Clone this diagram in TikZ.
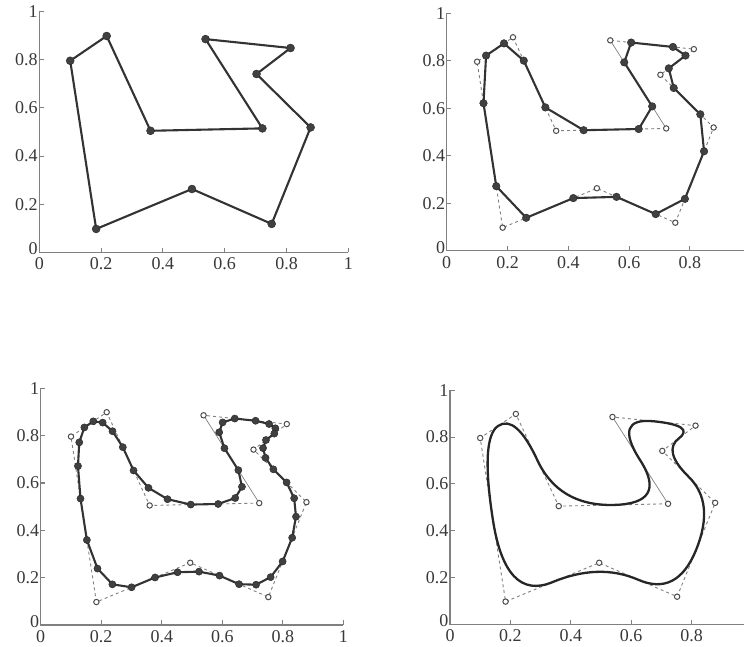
\documentclass[tikz,border=0pt]{standalone}
\usepackage{fontspec}
\setmainfont{Liberation Serif}
\usetikzlibrary{calc}

\tikzset{
  axisline/.style={draw=black!50, line width=1.1pt},
  ticklab/.style={font=\fontsize{18}{20}\selectfont, text=black!78, inner sep=1pt},
  poly/.style={draw=black!80, line width=2.1pt, line join=round},
  curve/.style={draw=black!85, line width=2.3pt, line join=round},
  oldpoly/.style={draw=black!50, line width=0.9pt, dash pattern=on 3pt off 3pt},
  oldsolid/.style={draw=black!50, line width=0.7pt},
  olddot/.style={draw=black!70, line width=1pt, fill=white},
  newdot/.style={fill=black!75, draw=black!85, line width=0.4pt},
}

\newcommand\defP{%
  \coordinate (P0) at (0.100,0.796);
  \coordinate (P1) at (0.218,0.899);
  \coordinate (P2) at (0.360,0.505);
  \coordinate (P3) at (0.722,0.515);
  \coordinate (P4) at (0.538,0.886);
  \coordinate (P5) at (0.813,0.849);
  \coordinate (P6) at (0.703,0.741);
  \coordinate (P7) at (0.878,0.519);
  \coordinate (P8) at (0.752,0.118);
  \coordinate (P9) at (0.494,0.263);
  \coordinate (P10) at (0.184,0.097);
}

% #1 panel prefix, #2 x-axis end, #3 x label list
\newcommand\myaxes[3]{%
  \coordinate (#1top) at (0,1);
  \coordinate (#1org) at (0,0);
  \coordinate (#1end) at (#2,0);
  \draw[axisline] (#1top) -- (#1org) -- (#1end);
  \node[ticklab, anchor=east] (#1yl0) at ($(#1org)+(-0.5pt,3.5pt)$) {0};
  \foreach \t/\l [count=\c] in {0.2/0.2,0.4/0.4,0.6/0.6,0.8/0.8,1/1}{
    \coordinate (#1yt\c) at (0,\t);
    \draw[axisline] (#1yt\c) -- ++(4.5pt,0pt);
    \node[ticklab, anchor=east] (#1yl\c) at ($(#1yt\c)+(-0.5pt,0pt)$) {\l};
  }
  \foreach \t/\l [count=\c] in {#3}{
    \coordinate (#1xt\c) at (\t,0);
    \draw[axisline] (#1xt\c) -- ++(0pt,4.5pt);
    \node[ticklab, anchor=north] (#1xl\c) at ($(#1xt\c)+(0pt,-4.5pt)$) {\l};
  }
}

% Chaikin step: #1 source prefix, #2 target prefix, #3 n, #4 n-1
\newcommand\chaik[4]{%
  \foreach \i in {0,...,#4}{
    \pgfmathtruncatemacro\jj{mod(\i+1,#3)}
    \pgfmathtruncatemacro\ia{2*\i}
    \pgfmathtruncatemacro\ib{2*\i+1}
    \coordinate (#2\ia) at ($(#1\i)!0.25!(#1\jj)$);
    \coordinate (#2\ib) at ($(#1\i)!0.75!(#1\jj)$);
  }
}

\newcommand\oldpolygon{%
  \draw[oldpoly] (P3) -- (P2) -- (P1) -- (P0) -- (P10) -- (P9) -- (P8) -- (P7) -- (P6) -- (P5) -- (P4);
  \draw[oldsolid] (P3) -- (P4);
  \foreach \i in {0,...,10}{\draw[olddot] (P\i) circle (2.7pt);}
}

\begin{document}
\begin{tikzpicture}
\useasboundingbox (0pt,0pt) rectangle (744pt,647pt);

% Panel 1: control polygon
\begin{scope}[shift={(39.3pt,394.7pt)}, x=309pt, y=240.6pt]
  \myaxes{a}{1}{0/0,0.2/0.2,0.4/0.4,0.6/0.6,0.8/0.8,1/1}
  \defP
  \draw[poly] (P0) foreach \i in {1,...,10}{ -- (P\i) } -- cycle;
  \foreach \i in {0,...,10}{\fill[newdot] (P\i) circle (4pt);}
\end{scope}

% Panel 2: one Chaikin step
\begin{scope}[shift={(446.7pt,396.3pt)}, x=304pt, y=237.4pt]
  \myaxes{b}{0.978}{0/0,0.2/0.2,0.4/0.4,0.6/0.6,0.8/0.8}
  \defP
  \oldpolygon
  \chaik{P}{Q}{11}{10}
  \draw[poly] (Q0) foreach \i in {1,...,21}{ -- (Q\i) } -- cycle;
  \foreach \i in {0,...,21}{\fill[newdot] (Q\i) circle (3.8pt);}
\end{scope}

% Panel 3: two Chaikin steps
\begin{scope}[shift={(40.7pt,22pt)}, x=302.7pt, y=236.7pt]
  \myaxes{c}{1}{0/0,0.2/0.2,0.4/0.4,0.6/0.6,0.8/0.8,1/1}
  \defP
  \oldpolygon
  \chaik{P}{Q}{11}{10}
  \chaik{Q}{R}{22}{21}
  \draw[poly] (R0) foreach \i in {1,...,43}{ -- (R\i) } -- cycle;
  \foreach \i in {0,...,43}{\fill[newdot] (R\i) circle (3.6pt);}
\end{scope}

% Panel 4: limit curve (quadratic B-spline)
\begin{scope}[shift={(450pt,22.7pt)}, x=302pt, y=234pt]
  \myaxes{d}{0.973}{0/0,0.2/0.2,0.4/0.4,0.6/0.6,0.8/0.8}
  \defP
  \oldpolygon
  \foreach \i in {0,...,10}{
    \pgfmathtruncatemacro\jj{mod(\i+1,11)}
    \coordinate (M\i) at ($(P\i)!0.5!(P\jj)$);
  }
  \foreach \i in {0,...,10}{
    \pgfmathtruncatemacro\kk{mod(\i+10,11)}
    \coordinate (A\i) at ($(M\kk)!0.66667!(P\i)$);
    \coordinate (B\i) at ($(M\i)!0.66667!(P\i)$);
  }
  \draw[curve] (M10) foreach \i in {0,...,10}{ .. controls (A\i) and (B\i) .. (M\i) } -- cycle;
\end{scope}
\end{tikzpicture}
\end{document}
